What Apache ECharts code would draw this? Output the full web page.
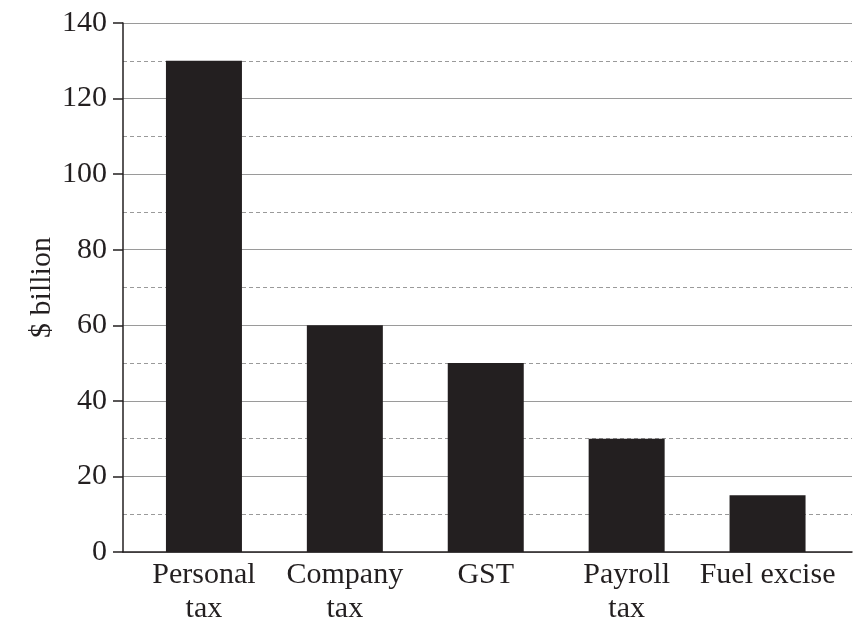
<!DOCTYPE html>
<html>
<head>
<meta charset="utf-8">
<script src="https://cdn.jsdelivr.net/npm/echarts@6/dist/echarts.min.js"></script>
<style>
html,body{margin:0;padding:0;background:#fff;}
#chart{width:868px;height:623px;}
</style>
</head>
<body>
<div id="chart"></div>
<script>
const categories = ['Personal\ntax', 'Company\ntax', 'GST', 'Payroll\ntax', 'Fuel excise'];
const revenue = [130, 60, 50, 30, 15];
const yTicks = [0, 20, 40, 60, 80, 100, 120, 140];

window.addEventListener('load', function () {
    let chart = echarts.init(document.getElementById('chart'));
    let ink = '#231f20';
    let font = '"Liberation Serif", "Times New Roman", serif';
    let option = {
        animation: false,
        backgroundColor: '#fff',
        grid: [
            // frame: y axis, gridlines, base line
            {left: 123, right: 16, top: 23, bottom: 71, containLabel: false, outerBoundsMode: 'none'},
            // bars sit a little inside the frame
            {left: 133.5, right: 30, top: 23, bottom: 71, containLabel: false, outerBoundsMode: 'none'}
        ],
        xAxis: [
            {
                gridIndex: 0, type: 'value', min: 0, max: 1,
                axisLine: {show: true, lineStyle: {color: ink, width: 1.5}},
                axisTick: {show: false}, axisLabel: {show: false}, splitLine: {show: false}
            },
            {
                gridIndex: 1, type: 'category', data: categories,
                axisLine: {show: false}, axisTick: {show: false},
                axisLabel: {
                    color: ink, fontFamily: font, fontSize: 30, lineHeight: 34,
                    margin: 6, interval: 0
                }
            }
        ],
        yAxis: [
            {
                gridIndex: 0, type: 'value', min: 0, max: yTicks[yTicks.length - 1], interval: 20,
                name: '$ billion', nameLocation: 'middle', nameGap: 66, nameMoveOverlap: false,
                nameTextStyle: {color: ink, fontFamily: font, fontSize: 30},
                axisLine: {show: true, lineStyle: {color: ink, width: 1.5}},
                axisTick: {show: true, inside: false, length: 10, lineStyle: {color: ink, width: 1.5}},
                axisLabel: {color: ink, fontFamily: font, fontSize: 30, margin: 16},
                splitLine: {show: true, lineStyle: {color: '#9a9a9a', width: 1.2}},
                minorTick: {show: false, splitNumber: 2},
                minorSplitLine: {show: true, lineStyle: {color: '#9a9a9a', width: 1, type: [4, 3]}}
            },
            {
                gridIndex: 1, type: 'value', min: 0, max: yTicks[yTicks.length - 1], interval: 20,
                show: false, splitLine: {show: false}
            }
        ],
        series: [{
            type: 'bar',
            xAxisIndex: 1,
            yAxisIndex: 1,
            data: revenue,
            barWidth: 76,
            itemStyle: {color: ink}
        }]
    };
    chart.setOption(option);
});
</script>
</body>
</html>
